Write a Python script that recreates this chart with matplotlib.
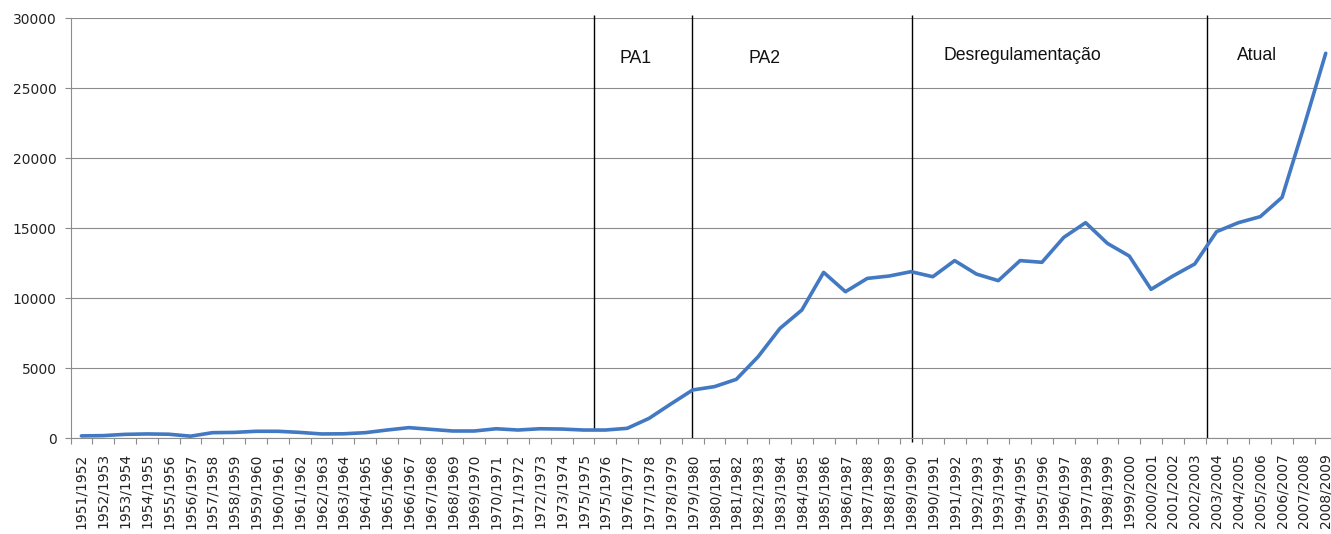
import numpy as np
import matplotlib
matplotlib.use("Agg")
import matplotlib.pyplot as plt

# safras (labels kept as printed in the source, incl. the repeated 1975)
seasons = [
    "1951/1952", "1952/1953", "1953/1954", "1954/1955", "1955/1956", "1956/1957",
    "1957/1958", "1958/1959", "1959/1960", "1960/1961", "1961/1962", "1962/1963",
    "1963/1964", "1964/1965", "1965/1966", "1966/1967", "1967/1968", "1968/1969",
    "1969/1970", "1970/1971", "1971/1972", "1972/1973", "1973/1974", "1975/1975",
    "1975/1976", "1976/1977", "1977/1978", "1978/1979", "1979/1980", "1980/1981",
    "1981/1982", "1982/1983", "1983/1984", "1984/1985", "1985/1986", "1986/1987",
    "1987/1988", "1988/1989", "1989/1990", "1990/1991", "1991/1992", "1992/1993",
    "1993/1994", "1994/1995", "1995/1996", "1996/1997", "1997/1998", "1998/1999",
    "1999/2000", "2000/2001", "2001/2002", "2002/2003", "2003/2004", "2004/2005",
    "2005/2006", "2006/2007", "2007/2008", "2008/2009",
]

production = [
    150, 170, 260, 290, 270, 130, 380, 400, 480, 480,
    400, 290, 300, 380, 570, 740, 620, 500, 500, 660,
    570, 660, 640, 570, 570, 690, 1400, 2430, 3430, 3670,
    4190, 5810, 7830, 9140, 11830, 10450, 11400, 11570, 11880, 11520,
    12670, 11710, 11240, 12670, 12550, 14330, 15380, 13900, 13000, 10620,
    11570, 12430, 14740, 15380, 15810, 17190, 22240, 27480,
]

# period separators (category positions) and labels
period_edges = [23.48, 27.97, 38.05, 51.56]
edge_bottoms = [570, 0, -300, 0]
period_names = ["PA1", "PA2", "Desregulamentação", "Atual"]
period_label_x = [25.38, 31.27, 43.11, 53.85]
period_label_y = [26820, 26820, 27000, 27000]

W, H = 1331, 534
fig = plt.figure(figsize=(W / 100, H / 100), dpi=100)
n = len(seasons)
step = 21.83
ax = fig.add_axes([70.5 / W, 96 / H, n * step / W, 420 / H])

x = np.arange(n)
ax.plot(x, production, color="#4279C2", lw=2.6, solid_joinstyle="round",
        solid_capstyle="round", zorder=3)

ax.set_xlim(-0.5, n - 0.5)
ax.set_ylim(0, 30000)
ax.set_yticks(np.arange(0, 30001, 5000))
ax.grid(axis="y", color="#8c8c8c", lw=0.8)
ax.set_axisbelow(True)

# ticks between categories, labels on category centres
ax.set_xticks(np.arange(-0.5, n, 1))
ax.set_xticklabels([])
ax.set_xticks(x, minor=True)
ax.set_xticklabels(seasons, minor=True, rotation=90, fontsize=10, color="#222222")
ax.tick_params(axis="x", which="major", length=4, width=0.8, color="#8c8c8c")
ax.tick_params(axis="x", which="minor", length=0, pad=11)
ax.tick_params(axis="y", length=4, width=0.8, color="#8c8c8c", labelsize=10,
               labelcolor="#222222", pad=6)

for side in ["top", "right"]:
    ax.spines[side].set_visible(False)
for side in ["left", "bottom"]:
    ax.spines[side].set_color("#8c8c8c")
    ax.spines[side].set_linewidth(0.8)

for xe, yb in zip(period_edges, edge_bottoms):
    ax.vlines(xe, yb, 30200, color="black", lw=1.0, zorder=2, clip_on=False)

for name, tx, ty in zip(period_names, period_label_x, period_label_y):
    ax.text(tx, ty, name, ha="center", va="baseline", fontsize=12.7,
            family="Liberation Sans", color="#111111")

fig.savefig("out.png", dpi=100)
